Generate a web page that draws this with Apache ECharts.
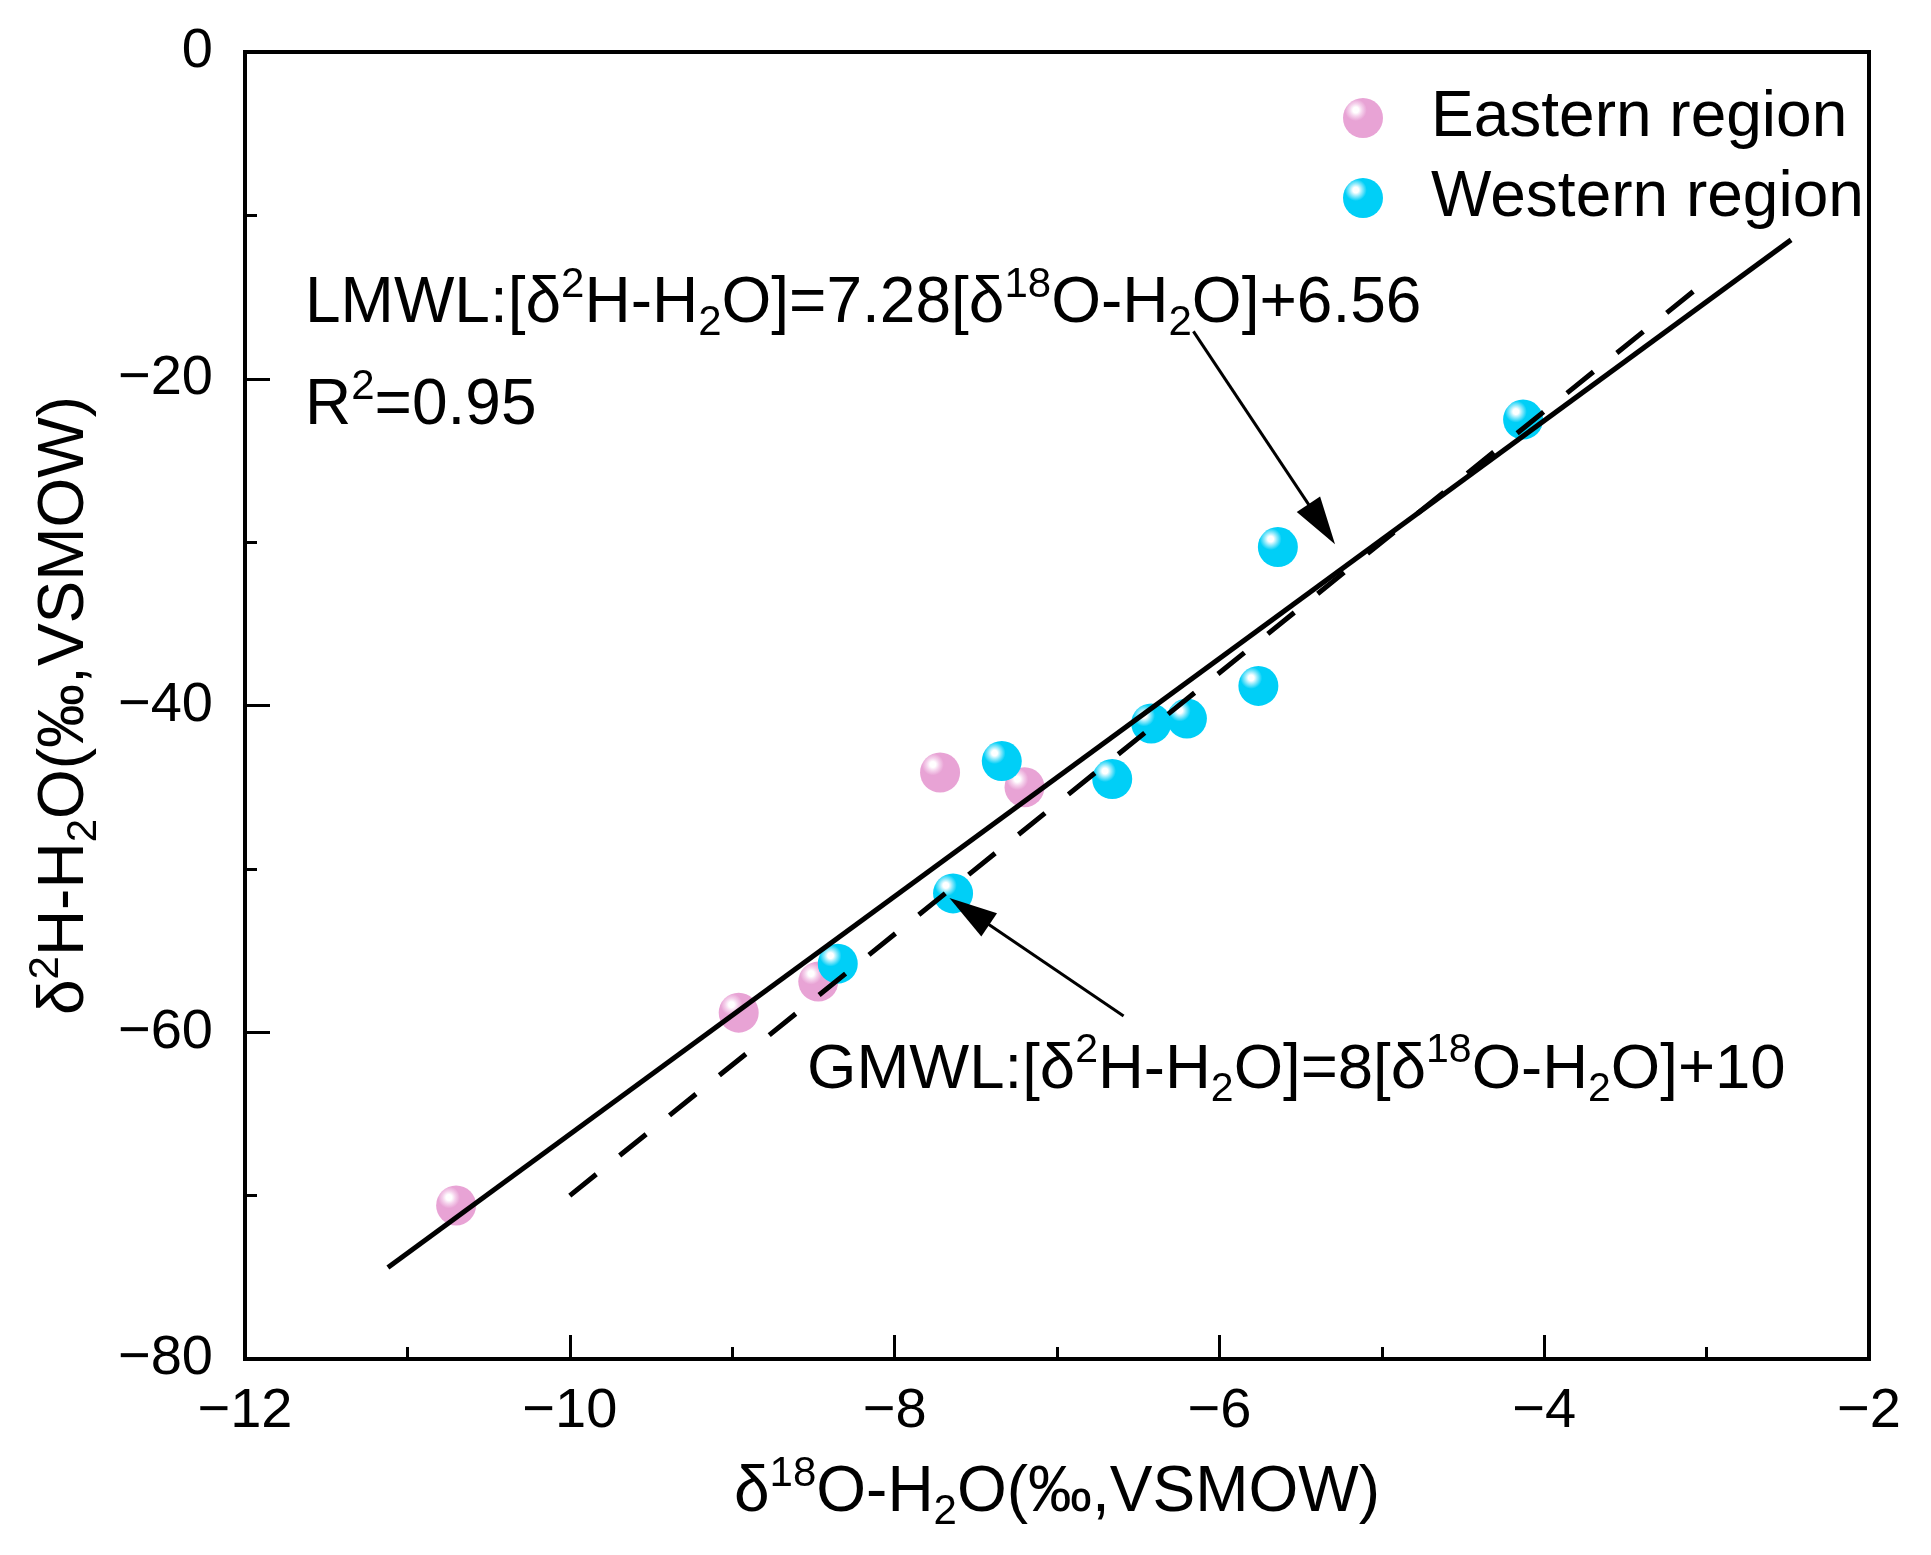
<!DOCTYPE html>
<html>
<head>
<meta charset="UTF-8">
<title>δ2H vs δ18O</title>
<script src="https://cdn.jsdelivr.net/npm/echarts@6/dist/echarts.min.js"></script>
<style>
  html, body { margin: 0; padding: 0; background: #fff; }
  #main { width: 1931px; height: 1555px; }
</style>
</head>
<body>
<div id="main"></div>
<script>
// sample points: [δ18O, δ2H]
var eastern = [[-10.70, -70.6], [-8.96, -58.8], [-8.47, -56.9], [-7.72, -44.1], [-7.20, -45.0]];
var western = [[-8.35, -55.8], [-7.64, -51.5], [-7.34, -43.4], [-6.66, -44.5], [-6.42, -41.1],
               [-6.20, -40.8], [-5.76, -38.8], [-5.64, -30.3], [-4.13, -22.5]];
// regression lines (end points)
var lmwl = [[-11.12, -74.4], [-2.48, -11.5]];
var gmwl = [[-10.0, -70.0], [-3.05, -14.4]];
// annotation arrows: [start, end]
var lmwlArrow = [[-6.16, -17.1], [-5.37, -28.9]];
var gmwlArrow = [[-6.59, -59.0], [-7.54, -52.6]];
var xTicks = [-12, -2, 2];   // min, max, step
var yTicks = [-80, 0, 20];

var FONT = 'Liberation Sans, Arial, sans-serif';

function richStyle(size, zr) {
  // zr: zrender style (graphic) uses fill, model style uses color
  var key = zr ? 'fill' : 'color';
  var n = { fontSize: size, fontFamily: FONT, lineHeight: 80 };
  var sup = { fontSize: Math.round(size * 0.65), fontFamily: FONT, lineHeight: 38, verticalAlign: 'top' };
  var sub = { fontSize: Math.round(size * 0.65), fontFamily: FONT, lineHeight: 34, verticalAlign: 'bottom' };
  n[key] = sup[key] = sub[key] = '#000';
  return { n: n, sup: sup, sub: sub };
}

function ball(c1, c2) {
  return {
    type: 'radial', x: 0.32, y: 0.3, r: 0.72,
    colorStops: [
      { offset: 0, color: '#ffffff' },
      { offset: 0.1, color: '#ffffff' },
      { offset: 0.22, color: c2 },
      { offset: 0.38, color: c1 },
      { offset: 1, color: c1 }
    ]
  };
}

var minus = function (v) { return String(v).replace('-', '\u2212'); };

var chart = echarts.init(document.getElementById('main'));
chart.setOption({
  animation: false,
  backgroundColor: '#fff',
  grid: {
    left: 245, right: 62, top: 52, bottom: 196,
    show: true, borderColor: '#000', borderWidth: 4
  },
  legend: {
    data: ['Eastern region', 'Western region'],
    orient: 'vertical',
    left: 1338, top: 81,
    itemWidth: 40, itemHeight: 40, itemGap: 16,
    textStyle: { fontSize: 64, lineHeight: 62, fontFamily: FONT, color: '#000', padding: [0, 0, 0, 43] }
  },
  xAxis: {
    type: 'value', min: xTicks[0], max: xTicks[1], interval: xTicks[2],
    name: '{n|δ}{sup|18}{n|O-H}{sub|2}{n|O(‰,VSMOW)}',
    nameLocation: 'middle', nameGap: 94,
    nameTextStyle: { rich: richStyle(64, false) },
    axisLine: { onZero: false, lineStyle: { color: '#000', width: 4 } },
    axisTick: { inside: true, length: 24, lineStyle: { color: '#000', width: 3 } },
    minorTick: { show: true, splitNumber: 2, length: 12, lineStyle: { color: '#000', width: 3 } },
    axisLabel: { fontSize: 56, fontFamily: FONT, color: '#000', margin: 25, formatter: minus },
    splitLine: { show: false }
  },
  yAxis: {
    type: 'value', min: yTicks[0], max: yTicks[1], interval: yTicks[2],
    name: '{n|δ}{sup|2}{n|H-H}{sub|2}{n|O(‰,VSMOW)}',
    nameLocation: 'middle', nameGap: 140,
    nameTextStyle: { rich: richStyle(64, false) },
    axisLine: { onZero: false, lineStyle: { color: '#000', width: 4 } },
    axisTick: { inside: true, length: 25, lineStyle: { color: '#000', width: 3 } },
    minorTick: { show: true, splitNumber: 2, length: 12, lineStyle: { color: '#000', width: 3 } },
    axisLabel: { fontSize: 56, fontFamily: FONT, color: '#000', margin: 32, formatter: minus },
    splitLine: { show: false }
  },
  series: [
    {
      name: 'Eastern region', type: 'scatter', data: eastern,
      symbol: 'circle', symbolSize: 40, z: 2,
      itemStyle: { color: ball('#E8A3D5', '#f5d2ec'), opacity: 1 }
    },
    {
      name: 'Western region', type: 'scatter', data: western,
      symbol: 'circle', symbolSize: 40, z: 2,
      itemStyle: { color: ball('#00CFF7', '#8fe9fb'), opacity: 1 }
    },
    {
      name: 'LMWL', type: 'line', data: lmwl, showSymbol: false, z: 3,
      lineStyle: { color: '#000', width: 5 },
      markLine: {
        silent: true, animation: false,
        symbol: ['none', 'path://M14,0 L28,48 L0,48 Z'],
        symbolSize: 48, symbolKeepAspect: true,
        lineStyle: { color: '#000', width: 3, type: 'solid' },
        label: { show: false },
        data: [
          [{ coord: lmwlArrow[0] }, { coord: lmwlArrow[1] }],
          [{ coord: gmwlArrow[0] }, { coord: gmwlArrow[1] }]
        ]
      }
    },
    {
      name: 'GMWL', type: 'line', data: gmwl, showSymbol: false, z: 3,
      lineStyle: { color: '#000', width: 5, type: [34, 30] }
    }
  ],
  graphic: [
    {
      type: 'text', left: 305, top: 264, z: 10,
      style: { text: '{n|LMWL:[δ}{sup|2}{n|H-H}{sub|2}{n|O]=7.28[δ}{sup|18}{n|O-H}{sub|2}{n|O]+6.56}', rich: richStyle(64, true) }
    },
    {
      type: 'text', left: 305, top: 366, z: 10,
      style: { text: '{n|R}{sup|2}{n|=0.95}', rich: richStyle(64, true) }
    },
    {
      type: 'text', left: 807, top: 1030, z: 10,
      style: { text: '{n|GMWL:[δ}{sup|2}{n|H-H}{sub|2}{n|O]=8[δ}{sup|18}{n|O-H}{sub|2}{n|O]+10}', rich: richStyle(63.5, true) }
    }
  ]
});
</script>
</body>
</html>
